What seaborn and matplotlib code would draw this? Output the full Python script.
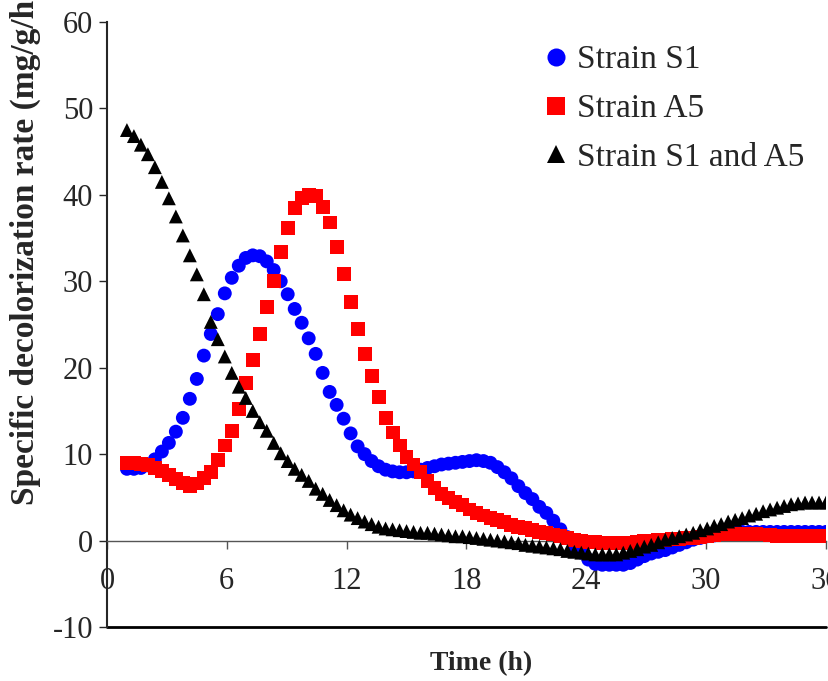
import matplotlib as mpl
mpl.use('Agg')

import numpy as np
import pandas as pd
import seaborn as sns
import matplotlib.pyplot as plt

# sampling times (h)
time_h = [1.00, 1.35, 1.70, 2.05, 2.40, 2.75, 3.10, 3.45, 3.80, 4.15,
          4.50, 4.85, 5.20, 5.55, 5.90, 6.25, 6.60, 6.95, 7.30, 7.65,
          8.00, 8.35, 8.70, 9.05, 9.40, 9.75, 10.10, 10.45, 10.80, 11.15,
          11.50, 11.85, 12.20, 12.55, 12.90, 13.25, 13.60, 13.95, 14.30, 14.65,
          15.00, 15.35, 15.70, 16.05, 16.40, 16.75, 17.10, 17.45, 17.80, 18.15,
          18.50, 18.85, 19.20, 19.55, 19.90, 20.25, 20.60, 20.95, 21.30, 21.65,
          22.00, 22.35, 22.70, 23.05, 23.40, 23.75, 24.10, 24.45, 24.80, 25.15,
          25.50, 25.85, 26.20, 26.55, 26.90, 27.25, 27.60, 27.95, 28.30, 28.65,
          29.00, 29.35, 29.70, 30.05, 30.40, 30.75, 31.10, 31.45, 31.80, 32.15,
          32.50, 32.85, 33.20, 33.55, 33.90, 34.25, 34.60, 34.95, 35.30, 35.65,
          36.00]

strain_s1 = [8.3, 8.3, 8.4, 8.7, 9.4, 10.3, 11.3, 12.6, 14.2, 16.4,
             18.7, 21.4, 23.9, 26.2, 28.6, 30.4, 31.8, 32.7, 33.0, 32.9,
             32.3, 31.3, 30.0, 28.5, 26.8, 25.2, 23.4, 21.6, 19.4, 17.2,
             15.7, 14.1, 12.4, 10.9, 10.0, 9.2, 8.6, 8.2, 8.0, 7.9,
             7.9, 8.0, 8.2, 8.4, 8.6, 8.8, 8.9, 9.0, 9.1, 9.2,
             9.3, 9.2, 9.0, 8.5, 7.9, 7.2, 6.3, 5.5, 4.8, 3.9,
             3.2, 2.3, 1.3, 0.4, -0.6, -1.4, -2.2, -2.7, -2.8, -2.8,
             -2.8, -2.8, -2.6, -2.2, -1.8, -1.5, -1.3, -1.1, -0.8, -0.5,
             -0.2, 0.1, 0.3, 0.5, 0.6, 0.8, 0.9, 1.0, 1.0, 1.0,
             1.0, 1.0, 1.0, 1.0, 1.0, 1.0, 1.0, 1.0, 1.0, 1.0,
             1.0]

strain_a5 = [9.0, 9.0, 8.9, 8.7, 8.4, 8.0, 7.6, 7.1, 6.7, 6.3,
             6.6, 7.2, 7.9, 9.3, 11.0, 12.7, 15.2, 18.2, 20.9, 23.9,
             27.0, 30.0, 33.4, 36.2, 38.5, 39.6, 40.0, 39.9, 38.6, 36.8,
             34.0, 30.8, 27.6, 24.5, 21.6, 19.0, 16.6, 14.2, 12.5, 11.0,
             9.7, 8.8, 7.9, 6.9, 6.1, 5.4, 4.9, 4.5, 4.1, 3.6,
             3.2, 2.9, 2.6, 2.4, 2.1, 1.8, 1.6, 1.5, 1.2, 1.0,
             0.9, 0.7, 0.5, 0.3, 0.1, 0.0, -0.2, -0.2, -0.3, -0.3,
             -0.3, -0.3, -0.3, -0.2, -0.1, 0.0, 0.1, 0.1, 0.2, 0.2,
             0.3, 0.3, 0.4, 0.5, 0.6, 0.7, 0.8, 0.8, 0.8, 0.8,
             0.8, 0.7, 0.6, 0.5, 0.5, 0.5, 0.5, 0.5, 0.5, 0.5,
             0.5]

strain_mix = [47.5, 46.8, 45.8, 44.7, 43.2, 41.5, 39.6, 37.5, 35.3, 33.0,
              30.8, 28.5, 25.3, 23.3, 21.3, 19.4, 17.8, 16.5, 15.0, 13.7,
              12.7, 11.3, 10.1, 9.2, 8.3, 7.6, 6.9, 6.0, 5.4, 4.7,
              4.1, 3.5, 3.0, 2.6, 2.2, 1.9, 1.6, 1.4, 1.3, 1.2,
              1.1, 1.0, 0.9, 0.9, 0.8, 0.7, 0.6, 0.5, 0.5, 0.4,
              0.3, 0.2, 0.1, 0.0, -0.1, -0.2, -0.3, -0.5, -0.6, -0.7,
              -0.8, -0.9, -1.0, -1.2, -1.3, -1.4, -1.5, -1.6, -1.6, -1.6,
              -1.6, -1.4, -1.2, -1.0, -0.7, -0.5, -0.2, 0.1, 0.3, 0.5,
              0.7, 0.9, 1.2, 1.4, 1.7, 1.9, 2.2, 2.4, 2.6, 2.9,
              3.1, 3.4, 3.6, 3.8, 4.0, 4.2, 4.3, 4.4, 4.4, 4.4,
              4.4]

labels = ["Strain S1", "Strain A5", "Strain S1 and A5"]
colors = ["#0000FF", "#FF0000", "#000000"]
markers = ["o", "s", "^"]

df = pd.DataFrame({
    "time": time_h * 3,
    "rate": strain_s1 + strain_a5 + strain_mix,
    "strain": [labels[0]] * len(time_h) + [labels[1]] * len(time_h) + [labels[2]] * len(time_h),
})

sns.set_style("ticks")
plt.rcParams['font.family'] = ['Liberation Serif', 'DejaVu Serif']
plt.rcParams['axes.unicode_minus'] = False

fig = plt.figure(figsize=(8.29, 6.81), dpi=100)
ax = fig.add_axes([0.129, 0.0793, 0.8674, 0.8884])

sns.scatterplot(data=df, x="time", y="rate", hue="strain", style="strain",
                hue_order=labels, style_order=labels,
                palette=dict(zip(labels, colors)), markers=dict(zip(labels, markers)),
                s=100, linewidth=0, ax=ax, zorder=3)

ax.set_xlim(0, 36)
ax.set_ylim(-10, 60)
ax.set_xticks(range(0, 37, 6))
ax.set_yticks(range(-10, 61, 10))

# x axis crosses at y = 0
ax.spines['bottom'].set_position(('data', 0))
ax.spines['bottom'].set_color('#555555')
ax.spines['bottom'].set_linewidth(1.0)
ax.spines['top'].set_visible(False)
ax.spines['right'].set_visible(False)
ax.spines['left'].set_linewidth(1.5)
ax.axhline(-10, color='black', lw=2, clip_on=False)

ax.tick_params(axis='x', direction='out', length=6, width=1, pad=13, labelsize=22, color='#555555')
ax.tick_params(axis='y', direction='out', length=6, width=1, pad=4, labelsize=22)

ax.set_xlabel("Time (h)", fontsize=20, fontweight='bold')
ax.xaxis.set_label_coords(0.520, -0.040)
ax.set_ylabel("")
fig.text(0.031, 0.258, "Specific decolorization rate (mg/g/h)", rotation=90,
         ha='center', va='bottom', fontsize=24, fontweight='bold')

ax.legend(loc='upper left', bbox_to_anchor=(0.601, 0.962), frameon=False,
          fontsize=24, handlelength=1.0, handletextpad=0.15, borderpad=0,
          borderaxespad=0, labelspacing=0.55, markerscale=1.3)

fig.savefig("out.png", dpi=100)
